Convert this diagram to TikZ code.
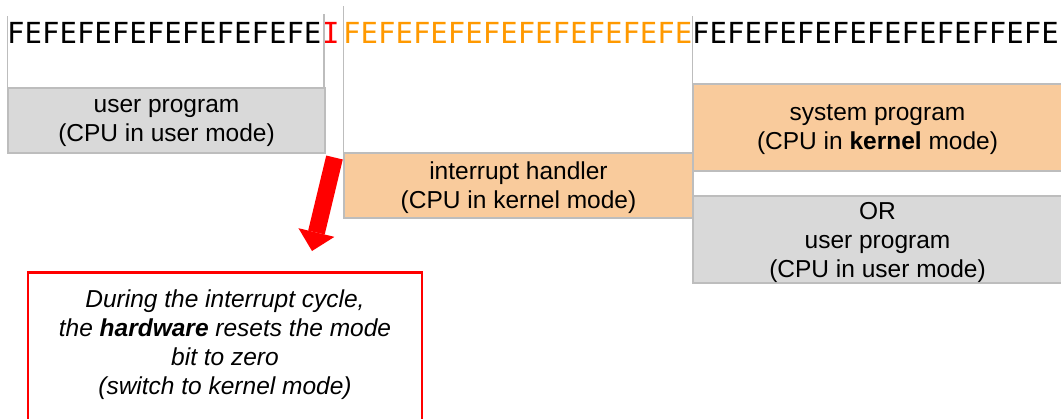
\documentclass[tikz,border=0pt]{standalone}
\usepackage{fontspec}
\setmainfont{Liberation Sans}
\newfontfamily\fefont{DejaVu Sans Mono}
\usetikzlibrary{arrows.meta}
\definecolor{boxgrey}{HTML}{D9D9D9}
\definecolor{boxpeach}{HTML}{F9CB9C}
\definecolor{edgegrey}{HTML}{BDBDBD}
\definecolor{fetchorange}{HTML}{FF9900}
\begin{document}
\begin{tikzpicture}[x=1pt,y=-1pt,
    modebox/.style={draw=edgegrey, line width=1.5pt, align=center, inner sep=0pt,
      text depth=0pt, font=\fontsize{24.5}{29}\selectfont},
    usermode/.style={modebox, fill=boxgrey},
    kernelmode/.style={modebox, fill=boxpeach},
    colline/.style={draw=edgegrey, line width=1.5pt},
    fetch/.style={anchor=base west, inner sep=0pt, font=\fefont\fontsize{29}{29}\selectfont}]
  \useasboundingbox (0,0) rectangle (1061,418);

  % fetch/execute stream
  \node[fetch] (fe1) at (7,43.5) {FEFEFEFEFEFEFEFEFE};
  \node[fetch, text=red] (irqcyc) at (322,43.5) {I};
  \node[fetch, text=fetchorange] (fe2) at (343,43.5) {FEFEFEFEFEFEFEFEFEFE};
  \node[fetch] (fe3) at (692,43.5) {FEFEFEFEFEFEFEFEFFEFE};

  % who runs
  \node[usermode, minimum width=317pt, minimum height=65pt] (user) at (166.5,120.5)
    {user program\\(CPU in user mode)};
  \node[kernelmode, minimum width=349pt, minimum height=65pt] (handler) at (518.5,185.5)
    {interrupt handler\\(CPU in kernel mode)};
  \node[kernelmode, minimum width=369pt, minimum height=87pt] (sysprog) at (877.5,127.5)
    {system program\\(CPU in \textbf{kernel} mode)};
  \node[usermode, minimum width=369pt, minimum height=87pt] (other) at (877.5,239.5)
    {OR\\user program\\(CPU in user mode)};

  % column edges
  \draw[colline] (user.north west) -- ++(0,-71);
  \draw[colline] (user.north east) ++(-2,0) -- ++(0,-73);
  \draw[colline] (handler.north west) -- ++(0,-146);
  \draw[colline] (other.south west) -- ++(0,-268);

  % note
  \node[draw=red, line width=2.5pt, minimum width=394pt, minimum height=150pt,
    anchor=north, align=center, text depth=10pt,
    font=\itshape\fontsize{24.5}{29}\selectfont] (note) at (225,271)
    {During the interrupt cycle,\\the \textbf{hardware} resets the mode\\bit to zero\\(switch to kernel mode)};

  \coordinate (trap) at (334.5,157.5);
  \coordinate (tip) at (312,251);
  \draw[red, line width=17pt, -{Triangle[width=37pt,length=19pt,line width=0pt]}] (trap) -- (tip);
\end{tikzpicture}
\end{document}
